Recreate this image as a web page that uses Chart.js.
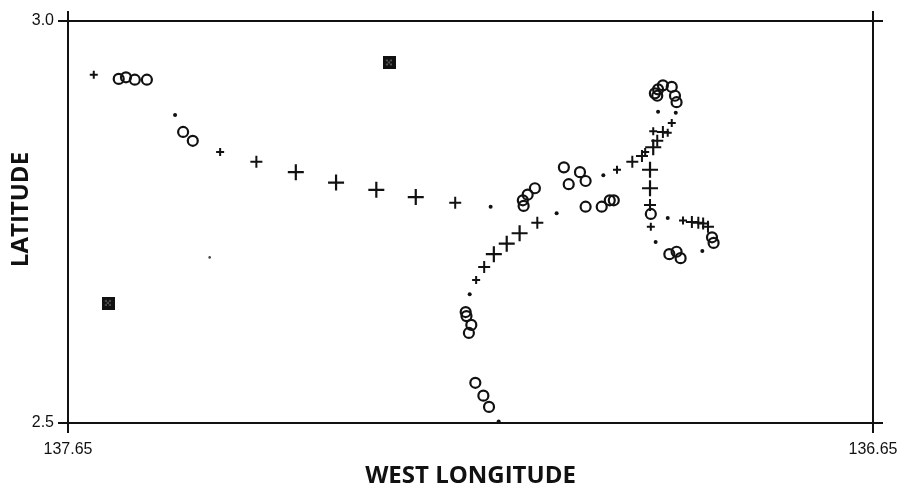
<!DOCTYPE html>
<html>
<head>
<meta charset="utf-8">
<script src="https://cdn.jsdelivr.net/npm/chart.js@4/dist/chart.umd.min.js"></script>
<style>
  html, body { margin: 0; padding: 0; background: #fff; }
  #wrap { width: 902px; height: 491px; position: relative; }
</style>
</head>
<body>
<div id="wrap"><canvas id="c" width="902" height="491"></canvas></div>
<script>
// ---- axis tick labels ----
const xTickLabels = [137.65, 136.65];
const yTickLabels = [2.5, 3.0];

// ---- open circles (west longitude, latitude) ----
const circleLon = [137.587, 137.578, 137.567, 137.552, 137.507, 137.495,
  137.034, 137.014, 137.007, 137.028, 137.070, 137.079, 137.085, 137.084, 137.007, 136.987, 136.977, 136.972,
  137.156, 137.155, 137.149, 137.152, 137.144, 137.134, 137.127,
  136.921, 136.917, 136.911, 136.900, 136.896, 136.894, 136.918,
  136.926, 136.903, 136.894, 136.889, 136.850, 136.848];
const circleLat = [2.928, 2.930, 2.927, 2.927, 2.862, 2.851,
  2.818, 2.812, 2.801, 2.797, 2.792, 2.784, 2.777, 2.770, 2.769, 2.769, 2.777, 2.777,
  2.638, 2.633, 2.622, 2.612, 2.550, 2.534, 2.520,
  2.910, 2.915, 2.920, 2.918, 2.907, 2.899, 2.907,
  2.760, 2.710, 2.713, 2.705, 2.731, 2.724];

// ---- large plus signs ----
const bigPlusLon = [137.367, 137.317, 137.267, 137.218, 137.121, 137.105, 137.089, 136.927, 136.927, 136.923];
const bigPlusLat = [2.812, 2.799, 2.790, 2.781, 2.710, 2.723, 2.736, 2.815, 2.792, 2.843];

// ---- medium plus signs ----
const midPlusLon = [137.416, 137.169, 137.133, 137.067, 136.949, 136.937, 136.918, 136.911, 136.927, 136.875, 136.867, 136.861, 136.855];
const midPlusLat = [2.825, 2.774, 2.694, 2.749, 2.825, 2.832, 2.851, 2.862, 2.771, 2.750, 2.749, 2.748, 2.744];

// ---- small plus signs ----
const smallPlusLon = [137.618, 137.461, 137.143, 136.968, 136.900, 136.905, 136.926, 136.886, 136.923, 136.933];
const smallPlusLat = [2.933, 2.837, 2.678, 2.815, 2.873, 2.861, 2.744, 2.752, 2.863, 2.837];

// ---- dots ----
const dotLon = [137.517, 137.125, 137.151, 137.043, 136.985, 136.917, 136.895, 136.920, 136.905, 136.862, 137.115];
const dotLat = [2.883, 2.769, 2.660, 2.761, 2.808, 2.887, 2.886, 2.725, 2.755, 2.714, 2.502];

// ---- specks ----
const speckLon = [137.474];
const speckLat = [2.706];

// ---- hatched squares ----
const squareLon = [137.251, 137.600];
const squareLat = [2.948, 2.649];

const INK = '#111111';
const pts = (xs, ys) => xs.map((x, i) => ({ x: x, y: ys[i] }));

// hatched square marker image
const sq = document.createElement('canvas');
sq.width = 13; sq.height = 13;
(function () {
  const g = sq.getContext('2d');
  g.fillStyle = INK;
  g.fillRect(0, 0, 13, 13);
  g.fillStyle = '#999999';
  [[4, 4], [8, 4], [4, 8], [8, 8], [6, 6]].forEach(p => g.fillRect(p[0] - 0.5, p[1] - 0.5, 1.4, 1.4));
})();

function endTicks(scale) {
  scale.ticks = [{ value: scale.min }, { value: scale.max }];
}

const tickFont = { family: '"Liberation Sans", Arial, sans-serif', size: 16 };
const titleFont = { family: '"Open Sans", sans-serif', size: 24, weight: 'bold' };

new Chart(document.getElementById('c'), {
  type: 'scatter',
  data: {
    datasets: [
      { label: 'circles', data: pts(circleLon, circleLat), pointStyle: 'circle', pointRadius: 5,
        pointBorderWidth: 2.2, pointBorderColor: INK, pointBackgroundColor: 'rgba(255,255,255,0)' },
      { label: 'big plus', data: pts(bigPlusLon, bigPlusLat), pointStyle: 'cross', pointRadius: 8,
        pointBorderWidth: 2.2, pointBorderColor: INK },
      { label: 'mid plus', data: pts(midPlusLon, midPlusLat), pointStyle: 'cross', pointRadius: 6,
        pointBorderWidth: 2, pointBorderColor: INK },
      { label: 'small plus', data: pts(smallPlusLon, smallPlusLat), pointStyle: 'cross', pointRadius: 4,
        pointBorderWidth: 2, pointBorderColor: INK },
      { label: 'dots', data: pts(dotLon, dotLat), pointStyle: 'circle', pointRadius: 2,
        pointBorderWidth: 0, pointBackgroundColor: INK },
      { label: 'specks', data: pts(speckLon, speckLat), pointStyle: 'circle', pointRadius: 1.3,
        pointBorderWidth: 0, pointBackgroundColor: '#444' },
      { label: 'squares', data: pts(squareLon, squareLat), pointStyle: sq, pointRadius: 6 }
    ]
  },
  options: {
    responsive: false,
    animation: false,
    events: [],
    layout: { padding: 0 },
    plugins: { legend: { display: false }, tooltip: { enabled: false } },
    scales: {
      x: {
        type: 'linear', position: 'bottom', reverse: true,
        min: Math.min(...xTickLabels), max: Math.max(...xTickLabels),
        afterBuildTicks: endTicks,
        afterFit: s => { s.height = 68; },
        ticks: { autoSkip: false, maxRotation: 0, color: INK, font: tickFont, padding: 7,
          callback: v => v.toFixed(2) },
        grid: { color: INK, lineWidth: 2, tickLength: 10, drawOnChartArea: true },
        border: { display: true, color: INK, width: 2 },
        title: { display: true, text: 'WEST LONGITUDE', color: INK, font: titleFont, padding: { top: 0, bottom: 0 } }
      },
      x2: {
        axis: 'x', type: 'linear', position: 'top', reverse: true,
        min: Math.min(...xTickLabels), max: Math.max(...xTickLabels),
        afterBuildTicks: endTicks,
        afterFit: s => { s.height = 21; },
        ticks: { display: false },
        grid: { color: INK, lineWidth: 2, tickLength: 10, drawOnChartArea: false },
        border: { display: true, color: INK, width: 2 }
      },
      y: {
        type: 'linear', position: 'left',
        min: Math.min(...yTickLabels), max: Math.max(...yTickLabels),
        afterBuildTicks: endTicks,
        afterFit: s => { s.width = 68; },
        ticks: { autoSkip: false, color: INK, font: tickFont, padding: 4,
          callback: v => v.toFixed(1) },
        grid: { color: INK, lineWidth: 2, tickLength: 10, drawOnChartArea: true },
        border: { display: true, color: INK, width: 2 },
        title: { display: true, text: '    LATITUDE', color: INK, font: titleFont, padding: { top: 7, bottom: 0 } }
      },
      y2: {
        axis: 'y', type: 'linear', position: 'right',
        min: Math.min(...yTickLabels), max: Math.max(...yTickLabels),
        afterBuildTicks: endTicks,
        afterFit: s => { s.width = 29; },
        ticks: { display: false },
        grid: { color: INK, lineWidth: 2, tickLength: 10, drawOnChartArea: false },
        border: { display: true, color: INK, width: 2 }
      }
    }
  }
});
</script>
</body>
</html>
